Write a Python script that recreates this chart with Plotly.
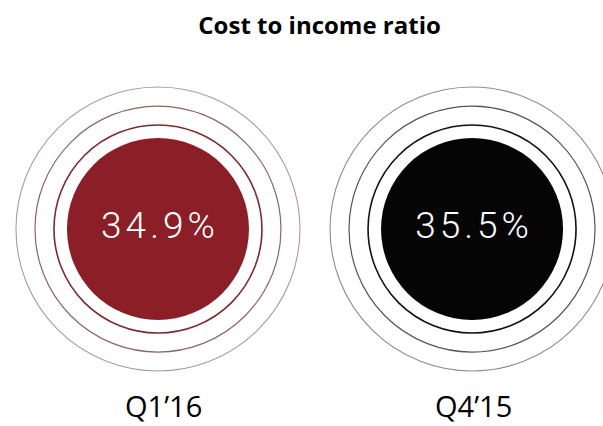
import plotly.graph_objects as go

# Data
periods = ["Q1’16", "Q4’15"]
ratios = [34.9, 35.5]
fill_colors = ["#8b1e26", "#050505"]
ring1_colors = ["#7a2a31", "#111111"]
ring2_colors = ["#8d6468", "#555555"]
ring3_colors = ["#aa9a9c", "#8c8c8c"]

xs = [0, 1]
ys = [0, 0]
labels = [f"{v:.1f}%" for v in ratios]

fig = go.Figure()

# concentric rings (largest first)
for size, cols, w in [(284, ring3_colors, 1.1), (246, ring2_colors, 1.2), (208, ring1_colors, 1.6)]:
    fig.add_trace(go.Scatter(
        x=xs, y=ys, mode="markers",
        marker=dict(size=size, symbol="circle-open", color=cols, line=dict(width=w, color=cols)),
        hoverinfo="skip", showlegend=False, cliponaxis=False,
    ))

# filled circles with value text
fig.add_trace(go.Scatter(
    x=xs, y=ys, mode="markers+text",
    marker=dict(size=182, color=fill_colors, line=dict(width=0)),
    text=labels, textposition="middle center",
    textfont=dict(family="Roboto", size=37, color="white", weight=300),
    hoverinfo="skip", showlegend=False, cliponaxis=False,
))

annotations = [
    dict(x=x, y=0, xref="x", yref="paper", text=p, showarrow=False,
         xanchor="center", yanchor="bottom", xshift=6 if i == 0 else 1,
         borderpad=0,
         font=dict(family="Open Sans", size=29, color="black"))
    for i, (x, p) in enumerate(zip(xs, periods))
]

fig.update_layout(
    width=603, height=426,
    margin=dict(l=0, r=0, t=0, b=0),
    paper_bgcolor="white", plot_bgcolor="white",
    title=dict(text="<b>Cost to income ratio</b>", x=0.53, xanchor="center",
               y=0.94, yanchor="middle",
               font=dict(family="Open Sans", size=24, color="black")),
    xaxis=dict(range=[-0.503, 1.417], visible=False, fixedrange=True),
    yaxis=dict(range=[-0.86, 1.0], visible=False, fixedrange=True),
    annotations=annotations,
)

fig.write_html("out.html", config={"displayModeBar": False}, post_script="""
document.body.style.margin='0';
document.body.style.overflow='hidden';
document.querySelectorAll('.textpoint text').forEach(function(t){
  t.style.letterSpacing='4px';
  var bb=t.getBBox();
  var cx=parseFloat(t.getAttribute('x'));
  var shift=cx-(bb.x+(bb.width-4)/2);
  var tr=t.getAttribute('transform')||'';
  t.setAttribute('transform', tr+' translate('+shift+',0)');
});
""")
